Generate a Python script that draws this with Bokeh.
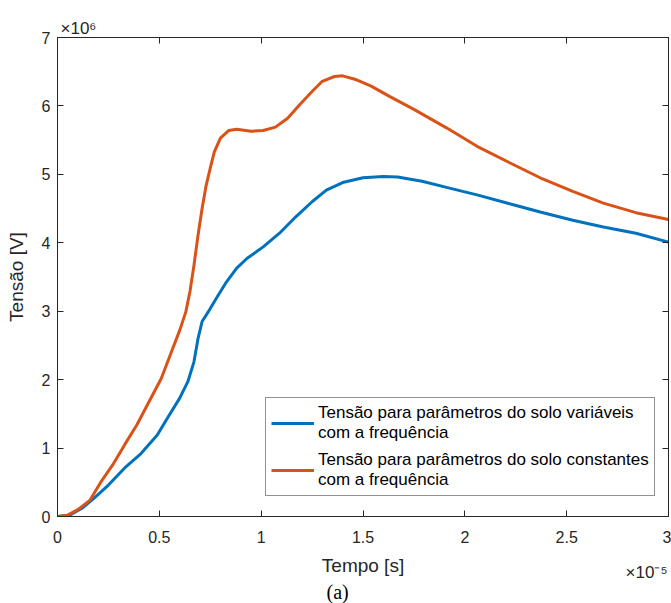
from bokeh.plotting import figure
from bokeh.models import LinearAxis, FixedTicker, Legend, LegendItem, Range1d, Title
from bokeh.embed import file_html
from bokeh.resources import INLINE

# Time in units of 1e-5 s, voltage in units of 1e6 V
tempo_var = [0, 0.06, 0.12, 0.18, 0.25, 0.33, 0.41, 0.49, 0.54, 0.60, 0.64, 0.67,
             0.69, 0.71, 0.74, 0.78, 0.83, 0.88, 0.93, 1.01, 1.09, 1.17, 1.25,
             1.32, 1.40, 1.50, 1.60, 1.67, 1.79, 1.91, 2.06, 2.22, 2.37, 2.53,
             2.68, 2.84, 3.0]
tensao_var = [0, 0.02, 0.12, 0.27, 0.46, 0.71, 0.92, 1.19, 1.44, 1.73, 1.97, 2.26,
              2.60, 2.85, 2.99, 3.19, 3.43, 3.63, 3.77, 3.94, 4.14, 4.38, 4.60,
              4.77, 4.88, 4.95, 4.97, 4.96, 4.90, 4.81, 4.70, 4.57, 4.45, 4.33,
              4.23, 4.14, 4.01]

tempo_const = [0, 0.05, 0.10, 0.16, 0.21, 0.27, 0.33, 0.39, 0.45, 0.51, 0.56, 0.60,
               0.63, 0.65, 0.67, 0.69, 0.71, 0.73, 0.75, 0.77, 0.80, 0.84, 0.88,
               0.95, 1.01, 1.07, 1.13, 1.19, 1.25, 1.30, 1.36, 1.40, 1.46, 1.54,
               1.63, 1.75, 1.91, 2.06, 2.22, 2.37, 2.53, 2.68, 2.84, 3.0]
tensao_const = [0, 0.02, 0.10, 0.24, 0.49, 0.75, 1.05, 1.34, 1.68, 2.02, 2.41, 2.72,
                2.99, 3.28, 3.67, 4.11, 4.50, 4.84, 5.09, 5.33, 5.53, 5.64, 5.66,
                5.63, 5.64, 5.69, 5.82, 6.02, 6.21, 6.36, 6.43, 6.44, 6.39, 6.29,
                6.14, 5.95, 5.68, 5.41, 5.17, 4.95, 4.75, 4.58, 4.44, 4.34]

x_ticks = [0, 0.5, 1, 1.5, 2, 2.5, 3]
x_tick_labels = ["0", "0.5", "1", "1.5", "2", "2.5", "3"]
y_ticks = [0, 1, 2, 3, 4, 5, 6, 7]
y_tick_labels = ["0", "1", "2", "3", "4", "5", "6", "7"]

labels = ["Tensão para parâmetros do solo variáveis\ncom a frequência",
          "Tensão para parâmetros do solo constantes\ncom a frequência"]
colors = ["#0072BD", "#D95319"]

FONT = "Liberation Sans"
INK = "#262626"

p = figure(width=671, height=603, x_range=Range1d(0, 3), y_range=Range1d(0, 7),
           output_backend="svg", toolbar_location=None,
           min_border_left=57, min_border_right=3, min_border_top=37,
           min_border_bottom=87)
p.background_fill_color = "white"
p.border_fill_color = "white"
p.outline_line_color = INK
p.outline_line_width = 1
p.xgrid.visible = False
p.ygrid.visible = False

r_var = p.line(tempo_var, tensao_var, line_color=colors[0], line_width=3)
r_const = p.line(tempo_const, tensao_const, line_color=colors[1], line_width=3)

def style_axis(ax, ticks, tick_labels):
    ax.ticker = FixedTicker(ticks=ticks)
    ax.major_label_overrides = {t: s for t, s in zip(ticks, tick_labels)}
    ax.major_tick_in = 6
    ax.major_tick_out = 0
    ax.minor_tick_line_color = None
    ax.axis_line_color = INK
    ax.major_tick_line_color = INK
    ax.major_label_text_font = FONT
    ax.major_label_text_color = INK
    ax.major_label_text_font_size = "16px"

style_axis(p.xaxis[0], x_ticks, x_tick_labels)
style_axis(p.yaxis[0], y_ticks, y_tick_labels)
p.xaxis[0].major_label_standoff = 14
p.yaxis[0].major_label_standoff = 7

p.xaxis.axis_label = "Tempo [s]"
p.yaxis.axis_label = "Tensão [V]"
for ax in (p.xaxis[0], p.yaxis[0]):
    ax.axis_label_text_font = FONT
    ax.axis_label_text_font_size = "19px"
    ax.axis_label_text_font_style = "normal"
    ax.axis_label_text_color = INK
p.xaxis[0].axis_label_standoff = 9
p.yaxis[0].axis_label_standoff = 12

# box ticks on the top and right edges, without labels
top_ax = LinearAxis()
right_ax = LinearAxis()
style_axis(top_ax, x_ticks, [""] * len(x_ticks))
style_axis(right_ax, y_ticks, [""] * len(y_ticks))
for ax in (top_ax, right_ax):
    ax.major_label_standoff = 0
p.add_layout(top_ax, "above")
p.add_layout(right_ax, "right")

legend = Legend(items=[LegendItem(label=labels[0], renderers=[r_var]),
                       LegendItem(label=labels[1], renderers=[r_const])],
                location=(208, 20))
legend.border_line_color = INK
legend.border_line_width = 1
legend.background_fill_color = "white"
legend.background_fill_alpha = 1
legend.label_text_font = FONT
legend.label_text_font_size = "17px"
legend.label_text_color = "black"
legend.label_text_line_height = 1.4
legend.glyph_width = 43
legend.label_standoff = 4
legend.padding = 5
legend.spacing = 7
legend.margin = 0
p.add_layout(legend)

# axis exponent notes
exp_y = Title(text="×10⁶", align="left", offset=3, standoff=0,
              text_font=FONT, text_font_size="17px", text_font_style="normal",
              text_color=INK)
p.add_layout(exp_y, "above")

exp_x = Title(text="×10⁻⁵", align="right", offset=1, standoff=-31,
              vertical_align="top",
              text_font=FONT, text_font_size="17px", text_font_style="normal",
              text_color=INK)
p.add_layout(exp_x, "below")

# panel caption
caption = Title(text="(a)", align="left", offset=269, standoff=0,
                text_font="Liberation Serif", text_font_size="20px",
                text_font_style="normal", text_color="black")
p.add_layout(caption, "below")

open("out.html", "w").write(file_html(p, INLINE))
